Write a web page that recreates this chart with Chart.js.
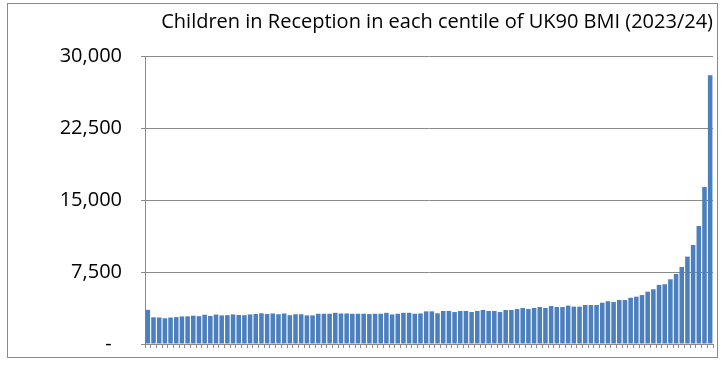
<!DOCTYPE html>
<html>
<head>
<meta charset="utf-8">
<script src="https://cdn.jsdelivr.net/npm/chart.js@4"></script>
<style>
    html, body { margin: 0; padding: 0; background: #fff; }
    #wrap { width: 727px; height: 369px; }
</style>
</head>
<body>
<div id="wrap"><canvas id="chart" width="727" height="369"></canvas></div>
<script>
// Data: number of children per centile (1..100)
const centiles = Array.from({ length: 100 }, (_, i) => String(i + 1));

const counts1to25 = [3560, 2780, 2760, 2680, 2760, 2800, 2870, 2880, 2950, 2900,
    3050, 2920, 3070, 2980, 3000, 3080, 3020, 3000, 3080, 3120,
    3200, 3120, 3180, 3100, 3180];
const counts26to50 = [3000, 3100, 3100, 2980, 2980, 3150, 3150, 3150, 3250, 3180,
    3180, 3150, 3150, 3150, 3120, 3150, 3150, 3250, 3080, 3150,
    3250, 3250, 3150, 3180, 3400];
const counts51to75 = [3400, 3200, 3440, 3440, 3330, 3440, 3440, 3330, 3440, 3540,
    3440, 3440, 3330, 3540, 3540, 3640, 3750, 3640, 3750, 3850,
    3750, 3950, 3850, 3850, 4000];
const counts76to100 = [3890, 3890, 4060, 4060, 4060, 4300, 4460, 4370, 4580, 4580,
    4820, 4930, 5100, 5450, 5700, 6150, 6220, 6740, 7290, 8020,
    9100, 10310, 12290, 16350, 28000];

const counts = [...counts1to25, ...counts26to50, ...counts51to75, ...counts76to100];

const yTicks = [0, 7500, 15000, 22500, 30000];
const chartTitle = 'Children in Reception in each centile of UK90 BMI (2023/24)';

// Outer frame like the spreadsheet chart box
const framePlugin = {
    id: 'frame',
    beforeDraw(chart) {
        const ctx = chart.ctx;
        ctx.save();
        ctx.fillStyle = '#fff';
        ctx.fillRect(0, 0, chart.width, chart.height);
        ctx.strokeStyle = '#8a8a8a';
        ctx.lineWidth = 1;
        ctx.strokeRect(7.5, 3.5, 710, 354);
        ctx.restore();
    }
};

new Chart(document.getElementById('chart'), {
    type: 'bar',
    data: {
        labels: centiles,
        datasets: [{
            data: counts,
            backgroundColor: '#4b7fbd',
            borderWidth: 0,
            barPercentage: 0.8,
            categoryPercentage: 1.0
        }]
    },
    options: {
        responsive: false,
        animation: false,
        layout: { padding: { left: 0, right: 14, top: 0, bottom: 0 } },
        plugins: {
            legend: { display: false },
            tooltip: { enabled: false },
            title: {
                display: true,
                text: chartTitle,
                align: 'end',
                color: '#000',
                font: { family: 'Open Sans', size: 20, weight: 'normal' },
                padding: { top: 10, bottom: 22 }
            }
        },
        scales: {
            x: {
                offset: true,
                ticks: { display: false, autoSkip: false },
                grid: {
                    drawOnChartArea: false,
                    drawTicks: true,
                    tickLength: 4,
                    color: '#8a8a8a'
                },
                border: { color: '#8a8a8a' },
                afterFit(scale) { scale.height = 25; }
            },
            y: {
                min: 0,
                max: 30000,
                afterBuildTicks(scale) {
                    scale.ticks = yTicks.map(v => ({ value: v }));
                },
                ticks: {
                    color: '#000',
                    padding: 19,
                    font: { family: 'Open Sans', size: 20 },
                    callback: v => v === 0 ? '-  ' : v.toLocaleString('en-US')
                },
                grid: { color: '#8a8a8a', tickLength: 4 },
                border: { color: '#8a8a8a' },
                afterFit(scale) {
                    scale.width = 145;
                    scale.paddingTop = 0;
                    scale.paddingBottom = 0;
                }
            }
        }
    },
    plugins: [framePlugin]
});
</script>
</body>
</html>
